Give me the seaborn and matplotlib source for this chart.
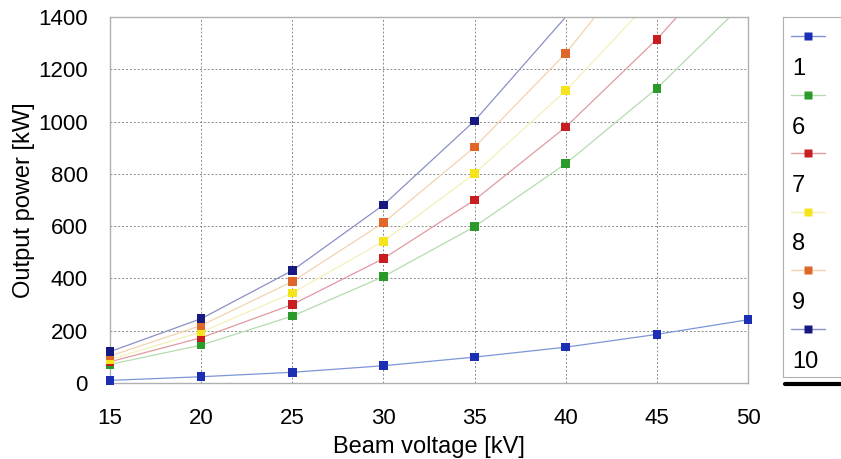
import pandas as pd
import matplotlib.pyplot as plt
from matplotlib.lines import Line2D
from matplotlib.ticker import MultipleLocator
import seaborn as sns

# data
voltage = [15, 20, 25, 30, 35, 40, 45, 50]
series_names = ["1", "6", "7", "8", "9", "10"]
power_1 = [10, 24, 41, 66, 99, 137, 186, 242]
power_6 = [71, 145, 256, 407, 598, 839, 1127]
power_7 = [81, 173, 300, 476, 700, 979, 1315]
power_8 = [90, 195, 344, 542, 801, 1118]
power_9 = [103, 220, 388, 613, 902, 1261]
power_10 = [120, 246, 430, 681, 1003]
# where the fitted curves leave the top of the plot (x at 1400 kW), None = no extension
curve_exit_kv = [None, 49.0, 46.1, 43.8, 41.6, 40.0]
curve_exit_kw = 1400

marker_colors = ["#1c2fb4", "#2a9a2a", "#c81e22", "#f4e41c", "#e0672a", "#161a80"]
line_colors = ["#7c96d6", "#b4dcae", "#e09aa0", "#f5efb8", "#f3d2b0", "#8a90c8"]

all_power = [power_1, power_6, power_7, power_8, power_9, power_10]

pts = []
for name, vals in zip(series_names, all_power):
    for v, p in zip(voltage, vals):
        pts.append({"series": name, "kV": v, "kW": p})
df_pts = pd.DataFrame(pts)

line_rows = pts.copy()
for name, xe in zip(series_names, curve_exit_kv):
    if xe is not None:
        line_rows.append({"series": name, "kV": xe, "kW": curve_exit_kw})
df_lines = pd.DataFrame(line_rows).sort_values(["series", "kV"])

sns.set_style("white")
plt.rcParams["font.family"] = ["Liberation Sans", "DejaVu Sans"]
plt.rcParams["text.color"] = "black"
plt.rcParams["axes.labelcolor"] = "black"
plt.rcParams["xtick.labelcolor"] = "black"
plt.rcParams["ytick.labelcolor"] = "black"

fig = plt.figure(figsize=(8.41, 4.59), dpi=100)
W, H = 841, 459
ax = fig.add_axes([110 / W, 1 - 383 / H, (748 - 110) / W, (383 - 17) / H])

sns.lineplot(data=df_lines, x="kV", y="kW", hue="series", hue_order=series_names,
             palette=line_colors, estimator=None, sort=False, lw=0.9,
             legend=False, ax=ax)
sns.scatterplot(data=df_pts, x="kV", y="kW", hue="series", hue_order=series_names,
                palette=marker_colors, marker="s", s=38, edgecolor="none",
                legend=False, ax=ax, zorder=5, clip_on=False)

ax.set_xlim(15, 50)
ax.set_ylim(0, 1400)
ax.xaxis.set_major_locator(MultipleLocator(5))
ax.xaxis.set_minor_locator(MultipleLocator(2.5))
ax.yaxis.set_major_locator(MultipleLocator(200))
ax.yaxis.set_minor_locator(MultipleLocator(100))
ax.grid(True, which="major", linestyle=(0, (2, 2)), color="#8a8a8a", lw=0.7)
ax.tick_params(which="both", direction="inout", color="#888888", labelsize=16,
               labelcolor="black")
ax.tick_params(which="major", length=8)
ax.tick_params(which="minor", length=6)
ax.tick_params(axis="y", pad=12)
ax.tick_params(axis="x", pad=14)
for sp in ax.spines.values():
    sp.set_color("#b0b0b0")
    sp.set_linewidth(1)
ax.set_xlabel("Beam voltage [kV]", fontsize=17, labelpad=5, color="black")
ax.set_ylabel("Output power [kW]", fontsize=17, labelpad=2, color="black")

# legend box on the right (handle above, label below)
lax = fig.add_axes([783 / W, 1 - 377 / H, 80 / W, (377 - 17) / H])
lax.set_xlim(783, 863)
lax.set_ylim(377, 17)
lax.set_xticks([])
lax.set_yticks([])
for sp in lax.spines.values():
    sp.set_color("#b0b0b0")
for i, name in enumerate(series_names):
    yh = 36 + i * 58.5
    lax.plot([791, 825], [yh, yh], color=line_colors[i], lw=1.0)
    lax.plot([808], [yh], marker="s", ms=6, color=marker_colors[i], mec="none")
    lax.text(792, yh + 33, name, fontsize=17, va="center", ha="left", color="black")
fig.add_artist(Line2D([785 / W, 1], [1 - 384 / H] * 2, lw=3, color="black"))

fig.savefig("out.png", dpi=100)
